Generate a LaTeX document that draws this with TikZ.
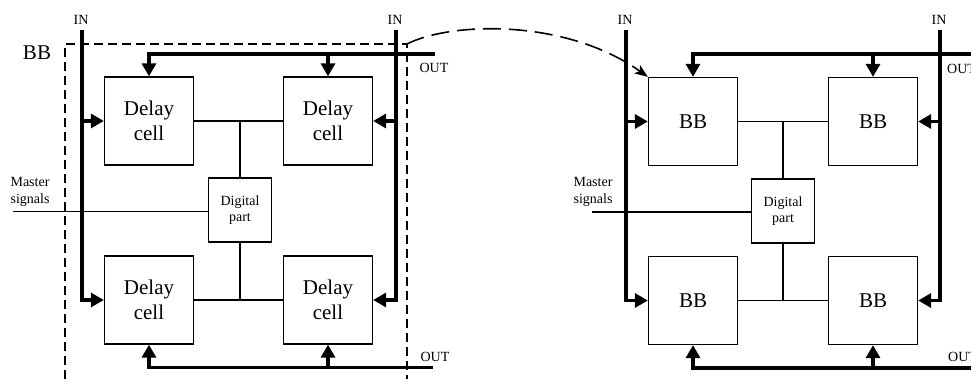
\documentclass[tikz,border=0pt]{standalone}
\usepackage{fontspec}
\setmainfont{Liberation Serif}
\usepackage{tikz}
\usetikzlibrary{calc,arrows.meta,positioning}

\tikzset{
    cell/.style={draw, line width=1.3pt, minimum width=89pt, minimum height=88pt,
        inner sep=0pt, align=center, font=\fontsize{21}{25}\selectfont},
    digibox/.style={draw, line width=1.3pt, minimum width=63pt, minimum height=64pt,
        inner sep=0pt, align=center, font=\fontsize{14}{16}\selectfont},
    bus/.style={line width=3.3pt},
    wire/.style={line width=1.8pt},
    boundary/.style={line width=1.1pt, dash pattern=on 9pt off 5pt},
    jump/.style={line width=1.6pt, dash pattern=on 18pt off 8pt,
        -{Stealth[length=13pt,width=10pt,inset=3pt]}},
    small/.style={font=\fontsize{14}{17}\selectfont, inner sep=1pt},
    big/.style={font=\fontsize{21}{25}\selectfont, inner sep=1pt}
}

\begin{document}
\begin{tikzpicture}[
    x=1pt,
    y=-1pt,
    >={Triangle[length=13pt,width=14pt]}
]
\useasboundingbox (0,0) rectangle (971,379);

% Building block (left)
\node[big] (bbLbl) at (37,53) {BB};
\coordinate (bbCorner) at (407,44);
\draw[boundary] (65,379) -- (65,44) -- (bbCorner) -- (407,379);

\node[cell] (dlTL) at (149,121) {Delay\\cell};
\node[cell] (dlTR) at (328,121) {Delay\\cell};
\node[cell] (dlBL) at (149,300) {Delay\\cell};
\node[cell] (dlBR) at (328,300) {Delay\\cell};
\node[digibox] (digL) at (240,210) {Digital\\part};

\draw[wire] (dlTL.east) -- (dlTR.west);
\draw[wire] (dlBL.east) -- (dlBR.west);
\draw[wire] (digL.north) -- (digL.north |- dlTL.east);
\draw[wire] (digL.south) -- (digL.south |- dlBL.east);

% Master signals
\node[small,align=left] (msL) at (30,192) {Master\\signals};
\coordinate (msLin) at (13,211.5);
\draw[wire] (msLin) -- (msLin -| digL.west);

% Inputs
\node[small] (inLlbl) at (81,20) {IN};
\node[small] (inRlbl) at (395,20) {IN};
\coordinate (inLtop) at (82,30);
\coordinate (inRtop) at (396,30);
\draw[bus,->] (inLtop) |- (dlBL.west);
\draw[bus,->] (inLtop |- dlTL.west) -- (dlTL.west);
\draw[bus,->] (inRtop) |- (dlBR.east);
\draw[bus,->] (inRtop |- dlTR.east) -- (dlTR.east);

% Outputs
\node[small] (outLlbl) at (434,68) {OUT};
\node[small] (outLlbl2) at (435,357) {OUT};
\coordinate (outLtop) at (435,54);
\coordinate (outLbot) at (433,367.5);
\draw[bus,->] (outLtop) -| (dlTL.north);
\draw[bus,->] (dlTR.north |- outLtop) -- (dlTR.north);
\draw[bus,->] (outLbot) -| (dlBL.south);
\draw[bus,->] (dlBR.south |- outLbot) -- (dlBR.south);

% Array of building blocks (right)
\node[cell] (bbTL) at (693,121.5) {BB};
\node[cell] (bbTR) at (873,121.5) {BB};
\node[cell] (bbBL) at (693,300.5) {BB};
\node[cell] (bbBR) at (873,300.5) {BB};
\node[digibox] (digR) at (783,211) {Digital\\part};

\draw[wire] (bbTL.east) -- (bbTR.west);
\draw[wire] (bbBL.east) -- (bbBR.west);
\draw[wire] (digR.north) -- (digR.north |- bbTL.east);
\draw[wire] (digR.south) -- (digR.south |- bbBL.east);

\node[small,align=left] (msR) at (593,192) {Master\\signals};
\coordinate (msRin) at (592,212);
\draw[wire] (msRin) -- (msRin -| digR.west);

\node[small] (inRLlbl) at (625,20) {IN};
\node[small] (inRRlbl) at (939,20) {IN};
\coordinate (inRLtop) at (626,30);
\coordinate (inRRtop) at (940,30);
\draw[bus,->] (inRLtop) |- (bbBL.west);
\draw[bus,->] (inRLtop |- bbTL.west) -- (bbTL.west);
\draw[bus,->] (inRRtop) |- (bbBR.east);
\draw[bus,->] (inRRtop |- bbTR.east) -- (bbTR.east);

\node[small,anchor=west] (outRlbl) at (946,69) {OUT};
\node[small,anchor=west] (outRlbl2) at (947,357) {OUT};
\coordinate (outRtop) at (975,54);
\coordinate (outRbot) at (975,368);
\draw[bus,->] (outRtop) -| (bbTL.north);
\draw[bus,->] (bbTR.north |- outRtop) -- (bbTR.north);
\draw[bus,->] (outRbot) -| (bbBL.south);
\draw[bus,->] (bbBR.south |- outRbot) -- (bbBR.south);

% Block placed into the array
\draw[jump] (bbCorner) .. controls (450,22) and (565,18) .. (bbTL.north west);

\end{tikzpicture}
\end{document}
